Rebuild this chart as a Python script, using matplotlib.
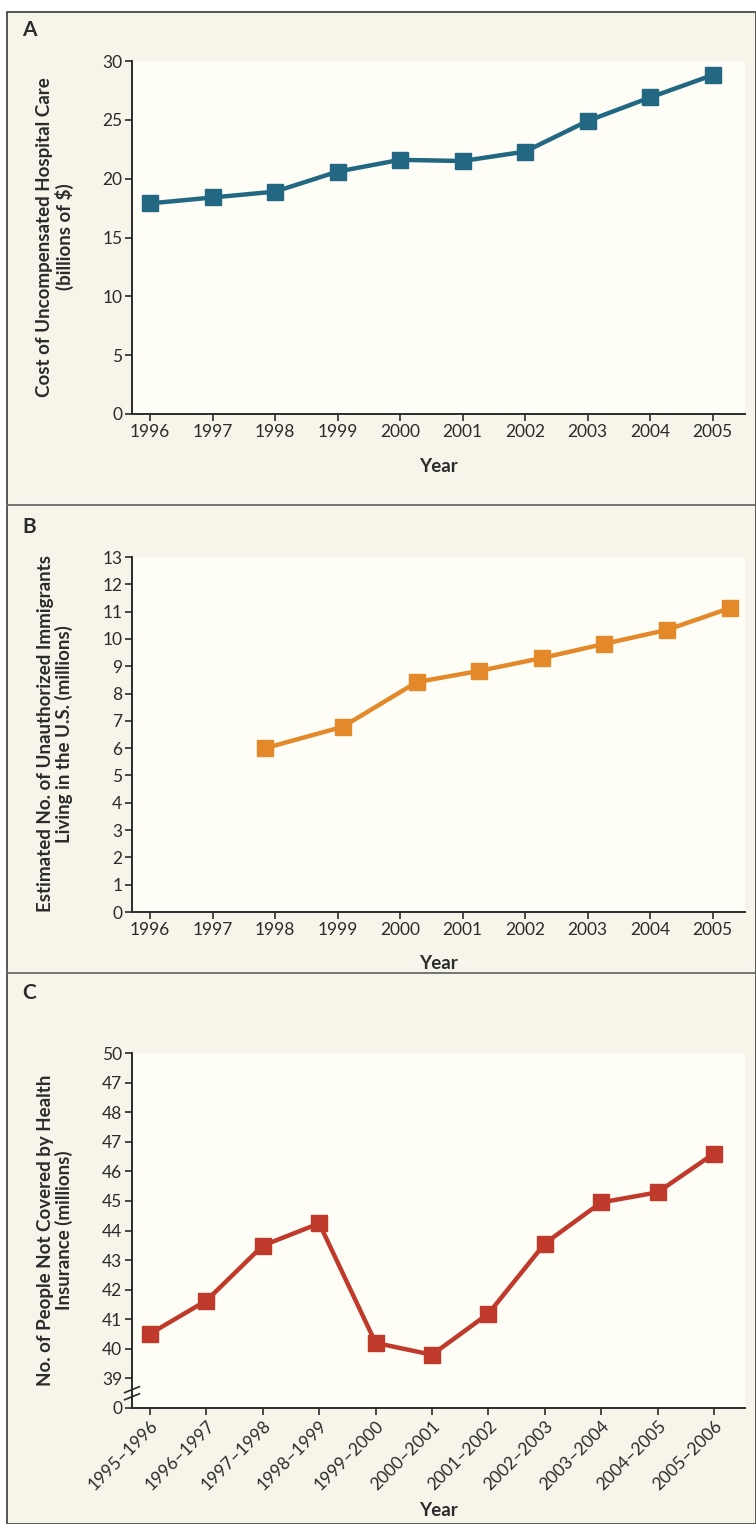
import matplotlib.pyplot as plt
from matplotlib.patches import Rectangle
from matplotlib.lines import Line2D

# panel A
years_a = [1996, 1997, 1998, 1999, 2000, 2001, 2002, 2003, 2004, 2005]
cost_a = [17.9, 18.4, 18.9, 20.6, 21.6, 21.5, 22.3, 24.9, 26.9, 28.8]

# panel B (points sit slightly off the year ticks)
years_b = [1997.84, 1999.08, 2000.27, 2001.27, 2002.27, 2003.27, 2004.27, 2005.28]
immig_b = [6.0, 6.78, 8.42, 8.83, 9.3, 9.82, 10.33, 11.13]

# panel C
periods_c = ["1995\u20131996", "1996\u20131997", "1997\u20131998", "1998\u20131999",
             "1999\u20132000", "2000\u20132001", "2001\u20132002", "2002\u20132003",
             "2003\u20132004", "2004\u20132005", "2005\u20132006"]
uninsured_c = [40.51, 41.63, 43.49, 44.24, 40.2, 39.8, 41.19, 43.56, 44.95, 45.29, 46.6]
# y tick labels as printed (with the 47 misprint)
ticks_c = [38, 39, 40, 41, 42, 43, 44, 45, 46, 47, 48, 49, 50]
ticklabels_c = ["0", "39", "40", "41", "42", "43", "44", "45", "46", "47", "48", "47", "50"]

W, H = 756, 1524
panel_bg = "#f7f4ea"
plot_bg = "#fefdf6"
ink = "#2b2b2b"
font = "Lato"
plt.rcParams['font.family'] = [font, 'DejaVu Sans']

fig = plt.figure(figsize=(W / 100, H / 100), dpi=100)
fig.patch.set_facecolor("white")

# outer frame and panel separators
fig.patches.append(Rectangle((7 / W, 0), (W - 7) / W, 1 - 12 / H, transform=fig.transFigure,
                             facecolor=panel_bg, edgecolor="#4a4a4a", lw=1.3, zorder=-5))
for yy in [505, 973]:
    fig.lines.append(Line2D([7 / W, 1], [1 - yy / H] * 2, transform=fig.transFigure,
                            color="#6a6a6a", lw=1.3, zorder=-4))


def make_ax(top, bottom):
    ax = fig.add_axes([132 / W, 1 - bottom / H, (745 - 132) / W, (bottom - top) / H])
    ax.set_facecolor(plot_bg)
    for s in ["top", "right"]:
        ax.spines[s].set_visible(False)
    for s in ["left", "bottom"]:
        ax.spines[s].set_color(ink)
        ax.spines[s].set_linewidth(1.4)
    ax.tick_params(direction="out", length=5, width=1.2, color=ink, labelcolor=ink,
                   labelsize=12.5, pad=2)
    return ax


def ylabel(text, cx, cy):
    fig.text(cx / W, 1 - cy / H, text, rotation=90, ha="center", va="center",
             multialignment="center", fontsize=13.5, fontweight="bold", color=ink,
             linespacing=1.1)


def xlabel(cy):
    fig.text(438 / W, 1 - cy / H, "Year", ha="center", va="center",
             fontsize=13.5, fontweight="bold", color=ink)


line_kw = dict(lw=3.2, marker="s", markersize=11.5, clip_on=False)

# A
ax = make_ax(61, 414)
ax.plot(years_a, cost_a, color="#226882", **line_kw)
ax.set_xlim(1995.71, 2005.52)
ax.set_ylim(0, 30)
ax.set_xticks(years_a)
ax.set_yticks(range(0, 31, 5))
fig.text(22 / W, 1 - 30 / H, "A", fontsize=15, fontweight="bold", color=ink, va="center")
ylabel("Cost of Uncompensated Hospital Care\n(billions of $)", 55, 237)
xlabel(467)

# B
ax = make_ax(557, 912)
ax.plot(years_b, immig_b, color="#e4892a", **line_kw)
ax.set_xlim(1995.71, 2005.52)
ax.set_ylim(0, 13)
ax.set_xticks(years_a)
ax.set_yticks(range(0, 14))
fig.text(22 / W, 1 - 527 / H, "B", fontsize=15, fontweight="bold", color=ink, va="center")
ylabel("Estimated No. of Unauthorized Immigrants\nLiving in the U.S. (millions)", 55, 734)
xlabel(964)

# C
ax = make_ax(1053, 1408)
xs = list(range(len(periods_c)))
ax.plot(xs, uninsured_c, color="#c03a2b", **line_kw)
ax.set_xlim(-0.32, 10.55)
ax.set_ylim(38, 50)
ax.set_xticks(xs)
ax.set_xticklabels(periods_c, rotation=45, ha="right", rotation_mode="anchor")
ax.set_yticks(ticks_c)
ax.set_yticklabels(ticklabels_c)
# axis break marks
for dy in [-0.12, 0.12]:
    ax.plot([-0.012, 0.012], [38.4 + dy, 38.6 + dy], transform=ax.get_yaxis_transform(),
            color=ink, lw=1.2, clip_on=False)
fig.text(22 / W, 1 - 993 / H, "C", fontsize=15, fontweight="bold", color=ink, va="center")
ylabel("No. of People Not Covered by Health\nInsurance (millions)", 55, 1230)
xlabel(1510)

fig.savefig("out.png", dpi=100, facecolor=fig.get_facecolor())
